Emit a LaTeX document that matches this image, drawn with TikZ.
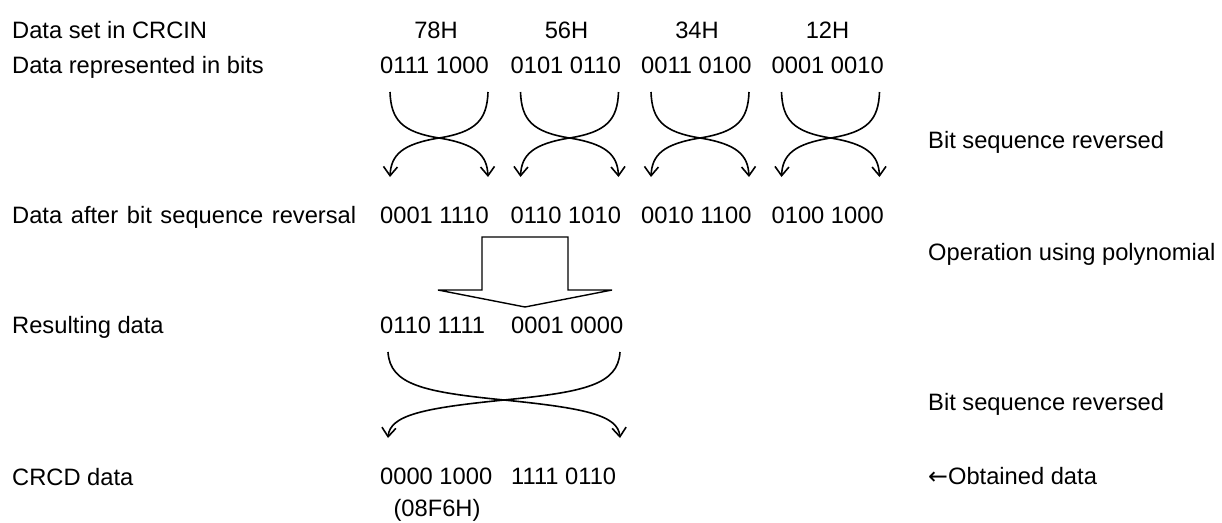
\documentclass[tikz,border=0pt]{standalone}
\usepackage{fontspec}
\setmainfont{Liberation Sans}
\newfontfamily\djv{DejaVu Sans}
\usetikzlibrary{arrows.meta}
\begin{document}
\begin{tikzpicture}[x=1pt,y=-1pt,
  txt/.style={font=\fontsize{23.7}{28}\selectfont, inner sep=0pt, anchor=base west},
  ctxt/.style={font=\fontsize{23.7}{28}\selectfont, inner sep=0pt, anchor=base},
  swapline/.style={line width=1.6pt, -{Straight Barb[length=9pt,width=14pt,line width=1.6pt]}},
  hollow/.style={line width=1.4pt, line join=miter}]
\useasboundingbox (0,0) rectangle (1222,522);

% left labels
\node[txt] (l1) at (12,38.4) {Data set in CRCIN};
\node[txt] (l2) at (12,73.4) {Data represented in bits};
\node[txt] (l3) at (12,223.4) {\spaceskip=8.6pt Data after bit sequence reversal};
\node[txt] (l4) at (12,333.4) {Resulting data};
\node[txt] (l5) at (12,485.4) {CRCD data};

% headers
\node[ctxt] (h1) at (436,38.4) {78H};
\node[ctxt] (h2) at (566.5,38.4) {56H};
\node[ctxt] (h3) at (697,38.4) {34H};
\node[ctxt] (h4) at (827.5,38.4) {12H};

% bits
\node[txt] (b1) at (380,73.4) {0111 1000};
\node[txt] (b2) at (510.5,73.4) {0101 0110};
\node[txt] (b3) at (641,73.4) {0011 0100};
\node[txt] (b4) at (771.5,73.4) {0001 0010};

% reversed
\node[txt] (r1) at (380,223.4) {0001 1110};
\node[txt] (r2) at (510.5,223.4) {0110 1010};
\node[txt] (r3) at (641,223.4) {0010 1100};
\node[txt] (r4) at (771.5,223.4) {0100 1000};

% resulting
\node[txt] (p1) at (380,333.4) {0110 1111};
\node[txt] (p2) at (511,333.4) {0001 0000};

% CRCD
\node[txt] (c1) at (380,484.4) {0000 1000};
\node[txt] (c2) at (511,484.4) {1111 0110};
\node[ctxt] (c3) at (437,516.5) {(08F6H)};

% right labels
\node[txt] (n1) at (928,148.4) {Bit sequence reversed};
\node[txt] (n2) at (928,260.4) {Operation using polynomial};
\node[txt] (n3) at (928,410.4) {Bit sequence reversed};
\node[txt] (n4) at (928,484.4) {{\djv ←}Obtained data};

% small crossing arrows
\foreach \g [count=\i] in {380,510.5,641,771.5}{
  \coordinate (tl\i) at (\g+10,92);
  \coordinate (tr\i) at (\g+108,92);
  \coordinate (x\i) at (\g+59,138);
  \coordinate (el\i) at (\g+10,177);
  \coordinate (er\i) at (\g+108,177);
  \draw[swapline] (tl\i) .. controls ++(1,28) and ++(-37,-6) .. (x\i)
     .. controls ++(37,6) and ++(-1,-22) .. (er\i);
  \draw[swapline] (tr\i) .. controls ++(-1,28) and ++(37,-6) .. (x\i)
     .. controls ++(-37,6) and ++(1,-22) .. (el\i);
}

% hollow arrow
\draw[hollow] (482,290) -- (482,237) -- (568,237) -- (568,290) -- (612,290)
  -- (525,307) -- (438,290) -- cycle;

% big crossing arrow
\coordinate (BL) at (388,352);
\coordinate (BR) at (620,352);
\coordinate (BX) at (504,400);
\coordinate (EL) at (388,438);
\coordinate (ER) at (620,438);
\draw[swapline] (BL) .. controls ++(2,33) and ++(-80,-8) .. (BX)
   .. controls ++(80,8) and ++(-2,-23) .. (ER);
\draw[swapline] (BR) .. controls ++(-2,33) and ++(80,-8) .. (BX)
   .. controls ++(-80,8) and ++(2,-23) .. (EL);
\end{tikzpicture}
\end{document}
